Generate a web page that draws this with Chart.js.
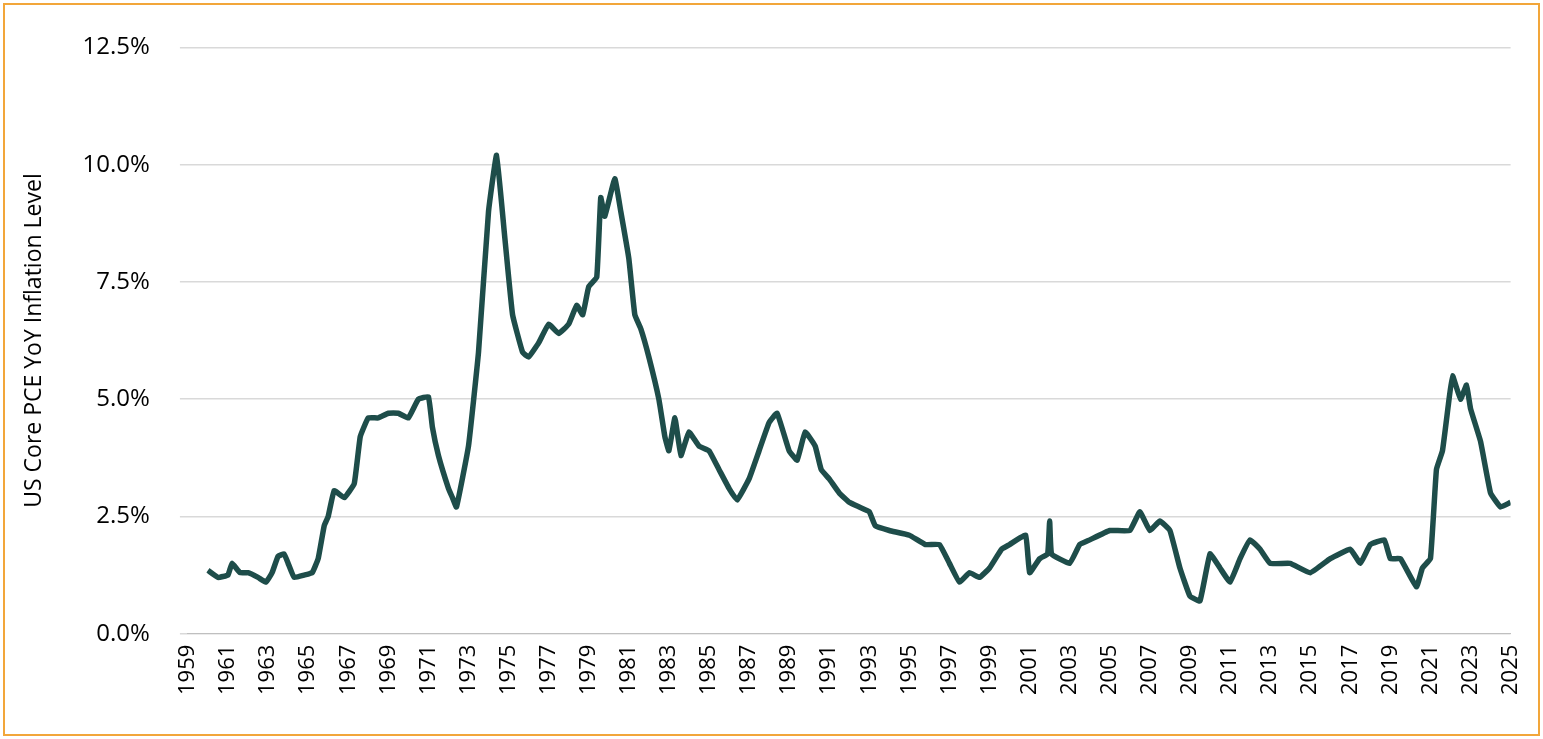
<!DOCTYPE html>
<html><head><meta charset="utf-8">
<script src="https://cdn.jsdelivr.net/npm/chart.js@4"></script>
<style>
html,body{margin:0;padding:0;background:#fff;}
#wrap{position:absolute;left:3px;top:3px;width:1537px;height:733px;}
#frame{position:absolute;left:3px;top:3px;width:1537px;height:733px;border:2px solid #f2a63a;box-sizing:border-box;pointer-events:none;}
</style></head><body>
<div id="wrap"><canvas id="c"></canvas></div><div id="frame"></div>
<script>
const years=[1960,1960.5,1961,1961.2,1961.6,1962,1962.5,1962.9,1963.2,1963.5,1963.8,1964,1964.3,1964.8,1965.2,1965.5,1965.8,1966,1966.3,1966.8,1967.3,1967.6,1968,1968.5,1969,1969.5,1970,1970.5,1971,1971.2,1971.5,1972,1972.2,1972.4,1973,1973.5,1974,1974.4,1974.8,1975.2,1975.7,1976,1976.5,1977,1977.5,1978,1978.4,1978.7,1979,1979.4,1979.6,1979.8,1980.3,1980.6,1981,1981.3,1981.6,1982,1982.5,1982.8,1983,1983.3,1983.6,1984,1984.5,1985,1985.5,1986,1986.4,1987,1987.5,1988,1988.4,1989,1989.4,1989.8,1990.3,1990.6,1991,1991.5,1992,1992.5,1993,1993.3,1994,1995,1995.8,1996.5,1997,1997.5,1998,1998.5,1999,1999.6,2000,2000.8,2001,2001.5,2001.9,2002,2002.1,2003,2003.5,2004,2005,2006,2006.5,2007,2007.5,2008,2008.5,2009,2009.5,2010,2010.5,2011,2011.5,2012,2012.5,2013,2014,2015,2016,2017,2017.5,2018,2018.7,2019,2019.5,2020.3,2020.6,2021,2021.3,2021.6,2021.9,2022.1,2022.5,2022.8,2023,2023.5,2024,2024.5,2025,2025.5];
const inflation=[1.35,1.2,1.25,1.5,1.3,1.3,1.2,1.1,1.3,1.65,1.7,1.5,1.2,1.25,1.3,1.6,2.3,2.5,3.05,2.9,3.2,4.2,4.6,4.6,4.7,4.7,4.6,5.0,5.05,4.4,3.8,3.1,2.9,2.7,4.0,6.0,9.0,10.2,8.5,6.8,6.0,5.9,6.2,6.6,6.4,6.6,7.0,6.8,7.4,7.6,9.3,8.9,9.7,9.0,8.0,6.8,6.5,5.9,5.0,4.2,3.9,4.6,3.8,4.3,4.0,3.9,3.5,3.1,2.85,3.3,3.9,4.5,4.7,3.9,3.7,4.3,4.0,3.5,3.3,3.0,2.8,2.7,2.6,2.3,2.2,2.1,1.9,1.9,1.5,1.1,1.3,1.2,1.4,1.8,1.9,2.1,1.3,1.6,1.7,2.4,1.7,1.5,1.9,2.0,2.2,2.2,2.6,2.2,2.4,2.2,1.4,0.8,0.7,1.7,1.4,1.1,1.6,2.0,1.8,1.5,1.5,1.3,1.6,1.8,1.5,1.9,2.0,1.6,1.6,1.0,1.4,1.6,3.5,3.9,4.9,5.5,5.0,5.3,4.8,4.1,3.0,2.7,2.8,2.9];
const yTicks=[0,2.5,5,7.5,10,12.5];
const pts=years.map((x,i)=>({x:x,y:inflation[i]}));
new Chart(document.getElementById('c'),{
type:'line',
data:{datasets:[{data:pts,borderColor:'#1e4d4a',borderWidth:5.5,pointRadius:0,tension:0.1,fill:false}]},
options:{responsive:true,maintainAspectRatio:false,animation:false,
layout:{padding:{left:14,right:28,top:26,bottom:38}},
plugins:{legend:{display:false},tooltip:{enabled:false}},
scales:{
x:{type:'linear',min:1959,max:2025,grid:{display:false},border:{color:'#bfbfbf'},
ticks:{stepSize:2,autoSkip:false,maxRotation:90,minRotation:90,color:'#000',font:{family:'Open Sans',size:22},callback:v=>String(v)}},
y:{min:0,max:12.5,afterBuildTicks:a=>{a.ticks=yTicks.map(v=>({value:v}));},
grid:{color:'#d9d9d9',lineWidth:1.5},border:{display:false},
title:{display:true,text:'US Core PCE YoY Inflation Level',color:'#000',font:{family:'Open Sans',size:23}},
ticks:{color:'#000',padding:30,font:{family:'Open Sans',size:24},callback:v=>v.toFixed(1)+'%'}}
}}});
</script></body></html>
